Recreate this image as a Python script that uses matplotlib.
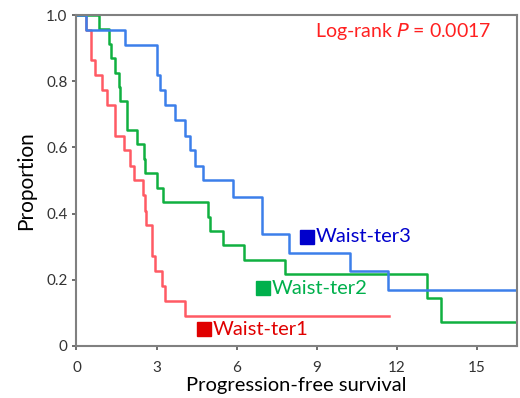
import matplotlib
matplotlib.use("Agg")

import matplotlib.pyplot as plt

# ── Data (Kaplan-Meier step curves) ───────────────────────────────────────────

ter1_time = [0, 0.37, 0.56, 0.69, 0.96, 1.15, 1.46, 1.77, 2.02, 2.15, 2.50,
             2.56, 2.62, 2.83, 2.96, 3.21, 3.33, 4.08, 11.7]
ter1_surv = [1.0, 0.955, 0.864, 0.818, 0.773, 0.727, 0.636, 0.591, 0.545, 0.500,
             0.455, 0.409, 0.364, 0.273, 0.227, 0.182, 0.136, 0.091, 0.091]

ter2_time = [0, 0.86, 1.21, 1.30, 1.46, 1.58, 1.65, 1.90, 2.27, 2.52, 2.58,
             3.02, 3.23, 4.92, 5.02, 5.49, 6.27, 7.83, 13.13, 13.66, 16.5]
ter2_surv = [1.0, 0.957, 0.913, 0.870, 0.826, 0.783, 0.739, 0.652, 0.609, 0.565,
             0.522, 0.478, 0.435, 0.391, 0.348, 0.304, 0.261, 0.217, 0.145,
             0.072, 0.072]

ter3_time = [0, 0.37, 1.81, 3.00, 3.12, 3.33, 3.71, 4.08, 4.24, 4.43, 4.75,
             5.87, 6.96, 7.95, 10.26, 11.67, 16.5]
ter3_surv = [1.0, 0.955, 0.909, 0.818, 0.773, 0.727, 0.682, 0.636, 0.591, 0.545,
             0.500, 0.449, 0.337, 0.281, 0.225, 0.169, 0.169]

labels = ["Waist-ter1", "Waist-ter2", "Waist-ter3"]
label_pos = [(4.77, 0.05), (7.0, 0.174), (8.65, 0.33)]

x_ticks = [0, 3, 6, 9, 12, 15]
y_ticks = [0, 0.2, 0.4, 0.6, 0.8, 1.0]
y_ticklabels = ["0", "0.2", "0.4", "0.6", "0.8", "1.0"]

# ── Styling ───────────────────────────────────────────────────────────────────

plt.rcParams["font.family"] = ["Lato", "DejaVu Sans"]
line_colors = ["#FF5A64", "#10B040", "#3C7FEA"]
mark_colors = ["#E00000", "#00B04C", "#0000CC"]

fig = plt.figure(figsize=(5.2, 3.98), dpi=100)
ax = fig.add_axes([0.147, 0.131, 0.847, 0.831])

curves = [(ter1_time, ter1_surv), (ter2_time, ter2_surv), (ter3_time, ter3_surv)]
for (t, s), col in zip(curves, line_colors):
    ax.step(t, s, where="post", color=col, linewidth=1.8, zorder=2)

for (lx, ly), lab, col in zip(label_pos, labels, mark_colors):
    ax.plot(lx, ly, marker="s", markersize=10.5, color=col, linestyle="none", zorder=3)
    ax.text(lx + 0.32, ly, lab, color=col, fontsize=14.5, va="center", ha="left")

ax.text(12.25, 0.95, "Log-rank $\\it{P}$ = 0.0017", color="#FF2020",
        fontsize=14, ha="center", va="center")

ax.set_xlim(0, 16.5)
ax.set_ylim(0, 1.0)
ax.set_xticks(x_ticks)
ax.set_yticks(y_ticks)
ax.set_yticklabels(y_ticklabels)
ax.tick_params(axis="both", labelsize=11, length=3, width=1.2, color="#555555",
               labelcolor="#333333")
ax.tick_params(axis="x", pad=8)
for sp in ax.spines.values():
    sp.set_color("#808080")
    sp.set_linewidth(1.5)

ax.set_xlabel("Progression-free survival", fontsize=14.5, labelpad=1)
ax.set_ylabel("Proportion", fontsize=15, labelpad=7)

fig.savefig("out.png", dpi=100)
